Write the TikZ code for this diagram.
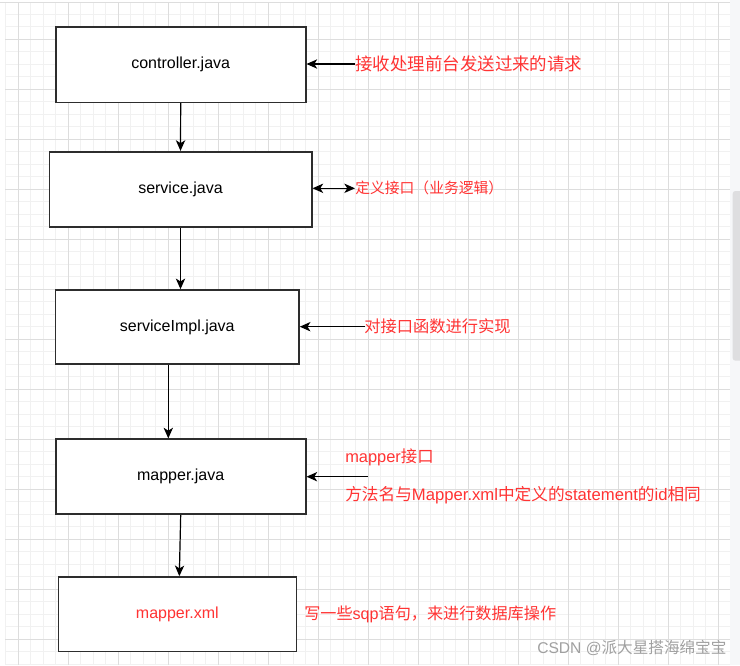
\documentclass[tikz,border=0pt]{standalone}
\usepackage{fontspec}
\setmainfont{Liberation Sans}
\newfontfamily\cjk{Noto Sans CJK SC}
\usepackage{xcolor}
\usepackage{tikz}
\usetikzlibrary{arrows.meta,positioning}

\definecolor{notered}{RGB}{255,51,51}
\definecolor{gridminor}{RGB}{241,241,241}
\definecolor{gridmajor}{RGB}{221,221,221}
\definecolor{boxline}{RGB}{45,45,45}
\definecolor{stripgray}{RGB}{246,247,249}
\definecolor{thumbgray}{RGB}{222,222,224}
\definecolor{markgray}{RGB}{160,160,160}

\begin{document}
\begin{tikzpicture}[x=0.75pt,y=-0.75pt]
            \tikzstyle{block} = [draw=boxline, rectangle, line width=1.2pt, fill=white, inner sep=0pt, font=\fontsize{12}{14}\selectfont]
            \tikzstyle{note} = [anchor=west, inner sep=0pt, text=notered]
            \tikzstyle{arr} = [-{Stealth[length=8pt,width=7pt,inset=2.2pt]}, line width=0.9pt, color=black]
            \tikzstyle{dbl} = [{Stealth[length=8pt,width=7pt,inset=2.2pt]}-{Stealth[length=8pt,width=7pt,inset=2.2pt]}, line width=0.9pt, color=black]

            % page and grid
            \useasboundingbox (0,0) rectangle (740,665);
            \fill [white] (0,0) rectangle (740,665);
            \foreach \x in {5.8,18.3,...,730} \draw [gridminor, line width=0.6pt] (\x,2.7) -- (\x,665);
            \foreach \y in {14.3,26.8,...,665} \draw [gridminor, line width=0.6pt] (5,\y) -- (730,\y);
            \foreach \x in {18.3,68.3,...,720} \draw [gridmajor, line width=0.6pt] (\x,2.7) -- (\x,665);
            \foreach \y in {39.3,89.3,...,665} \draw [gridmajor, line width=0.6pt] (5,\y) -- (730,\y);
            \draw [gridmajor, line width=0.8pt] (0,2.7) -- (730,2.7);
            \fill [stripgray] (730,0) rectangle (740,665);
            \fill [thumbgray, rounded corners=2pt] (732.7,191) rectangle (742,360.7);

            % layers
            \node [block, minimum width=187.5pt, minimum height=56.7pt] (controller) at (180.7,64.5) {controller.java};
            \node [block, minimum width=196.8pt, minimum height=56.25pt] (service) at (180.5,189.2) {service.java};
            \node [block, minimum width=182.5pt, minimum height=55.5pt] (serviceImpl) at (177.3,327) {serviceImpl.java};
            \node [block, minimum width=187.5pt, minimum height=56.25pt] (mapper) at (180.7,476.7) {mapper.java};
            \node [block, minimum width=178.5pt, minimum height=56pt, text=notered] (mapperxml) at (177.3,614.3) {mapper.xml};

            % notes
            \node [note, font=\fontsize{13.1}{15}\selectfont] (recv) at (355,64) {\cjk 接收处理前台发送过来的请求};
            \node [note, font=\fontsize{11.1}{13}\selectfont] (iface) at (355,188.3) {\cjk 定义接口（业务逻辑）};
            \node [note, font=\fontsize{12.2}{14}\selectfont] (impl) at (364,326.7) {\cjk 对接口函数进行实现};
            \node [note, font=\fontsize{12.3}{14}\selectfont] (mapif) at (345,457) {mapper{\cjk 接口}};
            \node [note, font=\fontsize{12.5}{14}\selectfont] (samename) at (345,495) {{\cjk 方法名与}Mapper.xml{\cjk 中定义的}statement{\cjk 的}id{\cjk 相同}};
            \node [note, font=\fontsize{12.1}{14}\selectfont] (sqlnote) at (304,614) {{\cjk 写一些}sqp{\cjk 语句，来进行数据库操作}};
            \node [anchor=west, inner sep=0pt, text=markgray, font=\fontsize{11.7}{14}\selectfont] (mark) at (537,648) {CSDN @{\cjk 派大星搭海绵宝宝}};
            \coordinate (mapstart) at (368,476.7);

            \draw [arr] (controller.south) -- (service.north);
            \draw [arr] (service.south) -- (service.south |- serviceImpl.north);
            \draw [arr] ([xshift=-6.75pt]serviceImpl.south) -- ([xshift=-6.75pt]serviceImpl.south |- mapper.north);
            \draw [arr] (mapper.south) -- ([xshift=1.5pt]mapperxml.north);
            \draw [arr] (recv.west) -- (controller.east |- recv.west);
            \draw [dbl] (service.east |- iface.west) -- (iface.west);
            \draw [arr] ([xshift=0.75pt]impl.west) -- (serviceImpl.east |- impl.west);
            \draw [arr] (mapstart) -- (mapper.east |- mapstart);
\end{tikzpicture}
\end{document}
